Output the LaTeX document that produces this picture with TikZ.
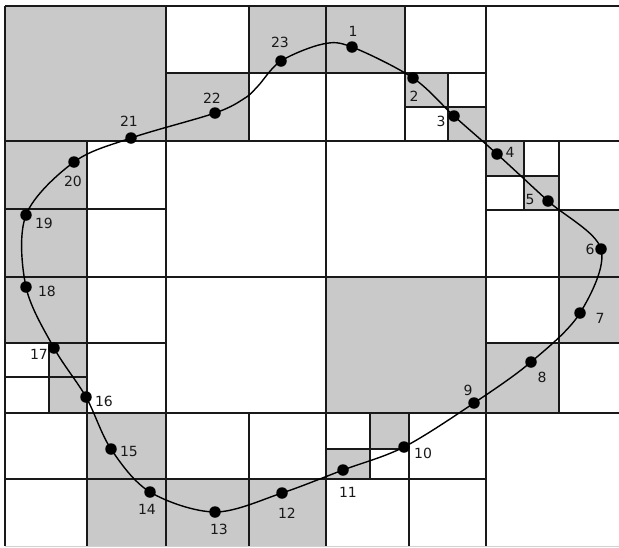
\documentclass[tikz,border=0pt]{standalone}
\usepackage{fontspec}
\setmainfont{DejaVu Sans}
\definecolor{cellgray}{RGB}{200,201,200}
\definecolor{ink}{RGB}{25,25,25}
\tikzset{
  cell/.style={fill=cellgray, draw=none},
  gridmain/.style={draw=ink, line width=1.7pt},
  gridsub/.style={draw=ink, line width=1.4pt},
  curveline/.style={draw=black, line width=1.4pt},
  dot/.style={circle, fill=black, inner sep=0pt, minimum size=11.5pt},
  lbl/.style={font=\fontsize{14}{14}\selectfont, text=ink, inner sep=0pt}
}
\begin{document}
\begin{tikzpicture}[x=1pt,y=-1pt]
\useasboundingbox (0,0) rectangle (619,547);
% gray cells
\fill[cell] (5,6) rectangle (166,141);
\fill[cell] (249,6) rectangle (326,73);
\fill[cell] (166,73) rectangle (249,141);
\fill[cell] (326,6) rectangle (405,73);
\fill[cell] (405,73) rectangle (448,107);
\fill[cell] (448,107) rectangle (486,141);
\fill[cell] (5,141) rectangle (87,209);
\fill[cell] (5,209) rectangle (87,277);
\fill[cell] (486,141) rectangle (524,176);
\fill[cell] (524,176) rectangle (559,210);
\fill[cell] (559,210) rectangle (619,277);
\fill[cell] (5,277) rectangle (87,343);
\fill[cell] (49,343) rectangle (87,413);
\fill[cell] (326,277) rectangle (486,413);
\fill[cell] (559,277) rectangle (619,343);
\fill[cell] (486,343) rectangle (559,413);
\fill[cell] (87,413) rectangle (166,479);
\fill[cell] (87,479) rectangle (166,546);
\fill[cell] (166,479) rectangle (249,546);
\fill[cell] (249,479) rectangle (326,546);
\fill[cell] (370,413) rectangle (409,449);
\fill[cell] (326,449) rectangle (370,479);
% main grid
\draw[gridmain] (5,6) -- (619,6);
\draw[gridmain] (5,141) -- (619,141);
\draw[gridmain] (5,277) -- (619,277);
\draw[gridmain] (5,413) -- (619,413);
\draw[gray!35, line width=1pt] (5,546) -- (619,546);
\draw[gridmain] (5,6) -- (5,546);
\draw[gridmain] (166,6) -- (166,546);
\draw[gridmain] (326,6) -- (326,546);
\draw[gridmain] (486,6) -- (486,546);
% subdivisions
\draw[gridsub] (249,6) -- (249,141);
\draw[gridsub] (166,73) -- (326,73);
\draw[gridsub] (405,6) -- (405,141);
\draw[gridsub] (326,73) -- (486,73);
\draw[gridsub] (448,73) -- (448,141);
\draw[gridsub] (405,107) -- (486,107);
\draw[gridsub] (87,141) -- (87,277);
\draw[gridsub] (5,209) -- (166,209);
\draw[gridsub] (559,141) -- (559,277);
\draw[gridsub] (486,210) -- (619,210);
\draw[gridsub] (524,141) -- (524,210);
\draw[gridsub] (486,176) -- (559,176);
\draw[gridsub] (87,277) -- (87,413);
\draw[gridsub] (5,343) -- (166,343);
\draw[gridsub] (49,343) -- (49,413);
\draw[gridsub] (5,377) -- (87,377);
\draw[gridsub] (559,277) -- (559,413);
\draw[gridsub] (486,343) -- (619,343);
\draw[gridsub] (87,413) -- (87,546);
\draw[gridsub] (5,479) -- (166,479);
\draw[gridsub] (249,413) -- (249,546);
\draw[gridsub] (166,479) -- (326,479);
\draw[gridsub] (409,413) -- (409,546);
\draw[gridsub] (326,479) -- (486,479);
\draw[gridsub] (370,413) -- (370,479);
\draw[gridsub] (326,449) -- (409,449);
% curve points
\coordinate (p1) at (352,47);
\coordinate (p2) at (413,78);
\coordinate (p3) at (454,116);
\coordinate (p4) at (497,154);
\coordinate (p5) at (548,201);
\coordinate (p6) at (601,249);
\coordinate (p7) at (580,313);
\coordinate (p8) at (531,362);
\coordinate (p9) at (474,403);
\coordinate (p10) at (404,447);
\coordinate (p11) at (343,470);
\coordinate (p12) at (282,493);
\coordinate (p13) at (215,512);
\coordinate (p14) at (150,492);
\coordinate (p15) at (111,449);
\coordinate (p16) at (86,397);
\coordinate (p17) at (54,348);
\coordinate (p18) at (26,287);
\coordinate (p19) at (26,215);
\coordinate (p20) at (74,162);
\coordinate (p21) at (131,138);
\coordinate (p22) at (215,113);
\coordinate (h1) at (245,98);
\coordinate (h2) at (258,86);
\coordinate (p23) at (281,61);
\coordinate (h3) at (323,44);
\draw[curveline] plot[smooth cycle, tension=0.55] coordinates {(p1) (p2) (p3) (p4) (p5) (p6) (p7) (p8) (p9) (p10) (p11) (p12) (p13) (p14) (p15) (p16) (p17) (p18) (p19) (p20) (p21) (p22) (h1) (h2) (p23) (h3)};
% dots
\foreach \i in {1,...,23} { \node[dot] (n\i) at (p\i) {}; }
% labels
\node[lbl] (l1) at (353,31) {1};
\node[lbl] (l2) at (414,96) {2};
\node[lbl] (l3) at (441,121) {3};
\node[lbl] (l4) at (510,152) {4};
\node[lbl] (l5) at (530,199) {5};
\node[lbl] (l6) at (590,249) {6};
\node[lbl] (l7) at (600,318) {7};
\node[lbl] (l8) at (542,377) {8};
\node[lbl] (l9) at (468,390) {9};
\node[lbl] (l10) at (423,453) {10};
\node[lbl] (l11) at (348,492) {11};
\node[lbl] (l12) at (287,513) {12};
\node[lbl] (l13) at (219,529) {13};
\node[lbl] (l14) at (147,509) {14};
\node[lbl] (l15) at (129,451) {15};
\node[lbl] (l16) at (104,401) {16};
\node[lbl] (l17) at (39,354) {17};
\node[lbl] (l18) at (47,291) {18};
\node[lbl] (l19) at (44,223) {19};
\node[lbl] (l20) at (73,181) {20};
\node[lbl] (l21) at (129,121) {21};
\node[lbl] (l22) at (212,98) {22};
\node[lbl] (l23) at (280,42) {23};
\end{tikzpicture}
\end{document}
